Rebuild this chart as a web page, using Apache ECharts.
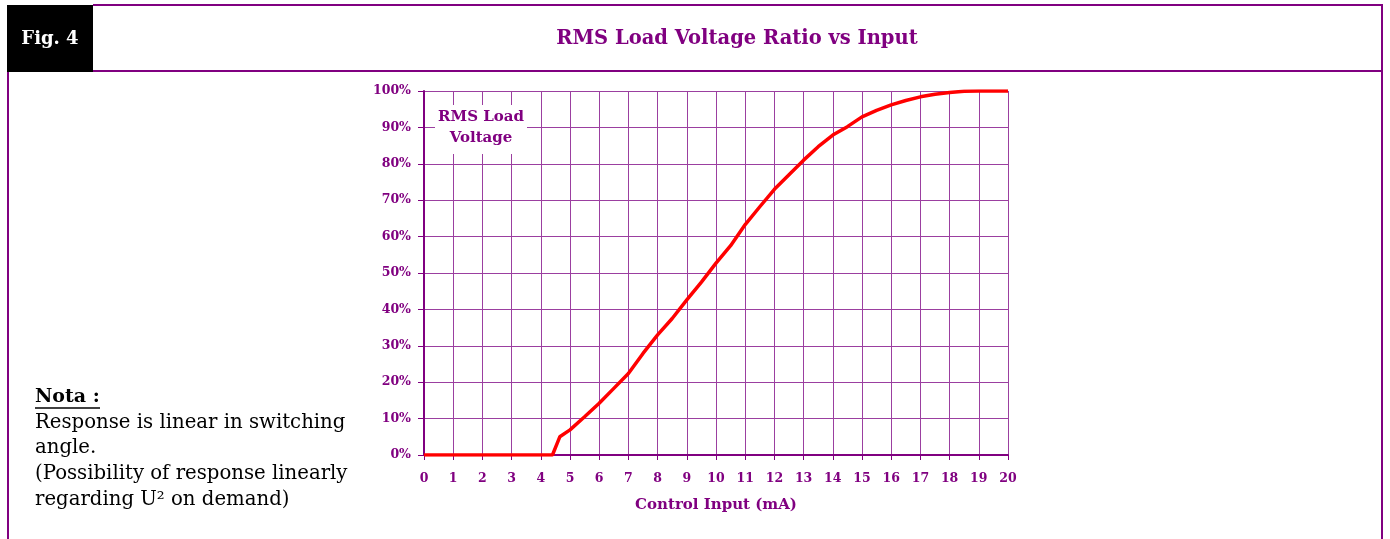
<!DOCTYPE html>
<html>
<head>
<meta charset="utf-8">
<script src="https://cdn.jsdelivr.net/npm/echarts@6/dist/echarts.min.js"></script>
<style>
html,body{margin:0;padding:0;background:#fff;}
#chart{width:1390px;height:539px;}
</style>
</head>
<body>
<div id="chart"></div>
<script>
// ---- data ----
const figLabel = 'Fig. 4';
const chartTitle = 'RMS Load Voltage Ratio vs Input';
const xAxisName = 'Control Input (mA)';
const curveLabel = 'RMS Load\nVoltage';
const controlInputMA = [0,1,2,3,4,4.4,4.55,4.65,5,5.5,6,6.5,7,7.5,8,8.5,9,9.5,10,10.5,11,11.5,12,12.5,13,13.5,14,14.5,15,15.5,16,16.5,17,17.5,18,18.5,19,20];
const rmsRatioPct = [0,0,0,0,0,0,3,5,6.9,10.5,14.2,18.3,22.4,27.9,33,37.5,42.6,47.5,52.7,57.5,63.3,68.2,73,77,81,84.7,87.9,90.2,92.9,94.7,96.2,97.4,98.4,99.1,99.6,99.9,100,100];
const notaTitle = 'Nota :';
const notaLines = ['Response is linear in switching','angle.','(Possibility of response linearly','regarding U\u00B2 on demand)'];

const PURPLE = '#800080';
const GRID = '#9b3fa0';
const SERIF = '"DejaVu Serif", "Liberation Serif", serif';

const chart = echarts.init(document.getElementById('chart'), null, {renderer:'canvas'});

const graphics = [
  {type:'line', shape:{x1:93,y1:5,x2:1383,y2:5}, style:{stroke:PURPLE,lineWidth:2}, silent:true},
  {type:'line', shape:{x1:93,y1:71,x2:1383,y2:71}, style:{stroke:PURPLE,lineWidth:2}, silent:true},
  {type:'line', shape:{x1:1382,y1:5,x2:1382,y2:539}, style:{stroke:PURPLE,lineWidth:2}, silent:true},
  {type:'line', shape:{x1:8,y1:71,x2:8,y2:539}, style:{stroke:PURPLE,lineWidth:2}, silent:true},
  {type:'rect', shape:{x:7,y:5,width:86,height:67}, style:{fill:'#000'}, silent:true},
  {type:'text', x:50, y:39, style:{text:figLabel, fill:'#fff', font:'bold 18px '+SERIF, align:'center', verticalAlign:'middle'}, silent:true},
  {type:'text', x:737, y:39, style:{text:chartTitle, fill:PURPLE, font:'bold 19.5px '+SERIF, align:'center', verticalAlign:'middle'}, silent:true},
  {type:'rect', shape:{x:435,y:105,width:92,height:49}, style:{fill:'#fff'}, z:100, silent:true},
  {type:'text', x:481, y:128, z:101, style:{text:curveLabel, fill:PURPLE, font:'bold 15px '+SERIF, align:'center', verticalAlign:'middle', lineHeight:21}, silent:true},
  {type:'text', x:35, y:397, style:{text:notaTitle, fill:'#000', font:'bold 19px '+SERIF, align:'left', verticalAlign:'middle'}, silent:true},
  {type:'line', shape:{x1:35,y1:408,x2:100,y2:408}, style:{stroke:'#000',lineWidth:1.3}, silent:true}
];
const notaY = [423, 448, 474, 500];
notaLines.forEach((t,i)=>{
  graphics.push({type:'text', x:35, y:notaY[i], style:{text:t, fill:'#000', font:'19.7px '+SERIF, align:'left', verticalAlign:'middle'}, silent:true});
});

const option = {
  animation:false,
  backgroundColor:'#fff',
  grid:{left:424, right:382, top:91, bottom:84, show:false},
  xAxis:{
    type:'value', min:0, max:20, interval:1,
    name:xAxisName, nameLocation:'middle', nameGap:43,
    nameTextStyle:{color:PURPLE, fontWeight:'bold', fontSize:15, fontFamily:SERIF},
    axisLine:{show:true, onZero:false, lineStyle:{color:PURPLE, width:2}},
    axisTick:{show:true, length:5, lineStyle:{color:PURPLE, width:1}},
    axisLabel:{color:PURPLE, fontWeight:'bold', fontSize:12.5, fontFamily:SERIF, margin:17},
    splitLine:{show:true, lineStyle:{color:GRID, width:1}}
  },
  yAxis:{
    type:'value', min:0, max:100, interval:10,
    axisLine:{show:true, lineStyle:{color:PURPLE, width:2}},
    axisTick:{show:true, length:6, lineStyle:{color:PURPLE, width:1}},
    axisLabel:{color:PURPLE, fontWeight:'bold', fontSize:12.5, fontFamily:SERIF, margin:13, formatter:'{value}%'},
    splitLine:{show:true, lineStyle:{color:GRID, width:1}}
  },
  series:[{
    type:'line',
    data:controlInputMA.map((x,i)=>[x, rmsRatioPct[i]]),
    showSymbol:false,
    smooth:false,
    lineStyle:{color:'#ff0000', width:3.5},
    z:50
  }],
  graphic:graphics
};
chart.setOption(option);
</script>
</body>
</html>
